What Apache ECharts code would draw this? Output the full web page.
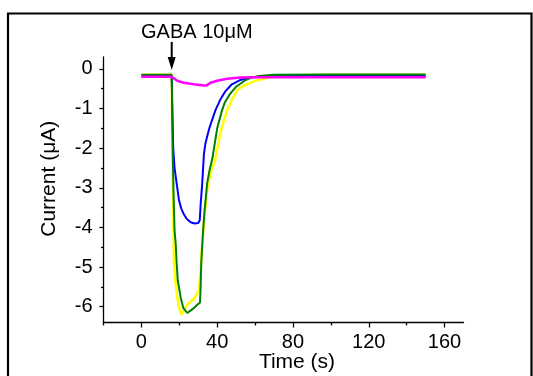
<!DOCTYPE html>
<html>
<head>
<meta charset="utf-8">
<script src="https://cdn.jsdelivr.net/npm/echarts@6/dist/echarts.min.js"></script>
<style>html,body{margin:0;padding:0;background:#fff;}#c{width:533px;height:376px;}</style>
</head>
<body>
<div id="c"></div>
<script>
// ---- data ----
var xTickLabels = [0, 40, 80, 120, 160];
var xMinorTicks = [-20, 20, 60, 100, 140];
var yTickLabels = [-6, -5, -4, -3, -2, -1, 0];
var yMinorTicks = [-5.5, -4.5, -3.5, -2.5, -1.5, -0.5];
var annotationText = 'GABA 10μM';
var gabaOnsetTime = 16;

var blueT = [0, 16, 16.4, 16.8, 17.5, 18.6, 19.8, 21, 22.4, 24, 26, 28, 30, 30.8, 31.3, 32.1, 33, 33.8, 35, 36.1, 37.6, 39.1, 41.4, 42.6, 44.4, 47.5, 52.3, 57.5, 65, 80, 100, 120, 150];
var blueV = [-0.17, -0.17, -1.2, -2.0, -2.5, -2.89, -3.3, -3.52, -3.67, -3.79, -3.87, -3.9, -3.89, -3.82, -3.4, -2.89, -2.15, -1.88, -1.65, -1.46, -1.25, -1.04, -0.8, -0.7, -0.56, -0.4, -0.28, -0.21, -0.19, -0.18, -0.18, -0.18, -0.18];

var greenT = [0, 16, 16.5, 17, 17.5, 18.1, 18.6, 19.2, 20.7, 22.1, 24.2, 26.8, 29.5, 30.9, 31.2, 31.6, 32.4, 33.3, 34.7, 36, 37.5, 38.5, 40, 42.6, 44, 46.5, 50, 55, 58, 62, 70, 100, 150];
var greenV = [-0.15, -0.15, -2, -3.2, -4.08, -4.4, -4.9, -5.34, -5.76, -6.03, -6.16, -6.07, -5.95, -5.9, -5.6, -4.9, -4.2, -3.6, -2.89, -2.55, -2.25, -1.95, -1.5, -1.04, -0.85, -0.65, -0.45, -0.28, -0.22, -0.18, -0.15, -0.14, -0.14];

var yellowT = [0, 16, 16.6, 17.2, 17.9, 18.9, 20.3, 21.2, 22, 24.2, 27.7, 30.3, 30.7, 31.3, 32.3, 33.5, 35, 37, 39, 40.3, 42.3, 45.3, 47.8, 50.5, 53, 56.6, 60, 63.7, 68, 75, 100, 150];
var yellowV = [-0.15, -0.15, -3, -4.9, -5.34, -5.76, -6.1, -6.2, -6.15, -5.95, -5.8, -5.6, -5.45, -5.0, -4.3, -3.6, -2.95, -2.55, -2.3, -1.95, -1.5, -1.04, -0.78, -0.54, -0.45, -0.37, -0.3, -0.26, -0.2, -0.17, -0.15, -0.15];

var magentaT = [0, 16, 16.6, 18.9, 22.4, 27.7, 33, 34.7, 36.5, 40, 45.3, 52.3, 60, 100, 150];
var magentaV = [-0.2, -0.2, -0.22, -0.3, -0.35, -0.39, -0.42, -0.41, -0.35, -0.3, -0.25, -0.22, -0.21, -0.21, -0.21];

function zip(t, v) { return t.map(function (x, i) { return [x, v[i]]; }); }

var FONT = 'Liberation Sans, Arial, sans-serif';
var chart = echarts.init(document.getElementById('c'), null, { renderer: 'canvas' });

function line(name, color, t, v, w) {
  return {
    name: name, type: 'line', data: zip(t, v), showSymbol: false, symbol: 'none',
    xAxisIndex: 0, yAxisIndex: 0,
    lineStyle: { color: color, width: w }, animation: false, z: 2
  };
}

var grid = { left: 103.5, right: 69.5, top: 57, bottom: 53.5, containLabel: false, outerBoundsMode: 'none' };

chart.setOption({
  animation: false,
  backgroundColor: '#fff',
  grid: grid,
  xAxis: [{
    type: 'value', min: -20, max: 170, position: 'bottom',
    name: 'Time (s)', nameLocation: 'middle', nameGap: 29, nameMoveOverlap: false,
    nameTextStyle: { fontFamily: FONT, fontSize: 21, color: '#000', padding: [0, 0, 0, 27] },
    axisLine: { show: true, onZero: false, lineStyle: { color: '#000', width: 1.3 } },
    axisTick: { show: true, inside: false, length: 5, customValues: xTickLabels, lineStyle: { color: '#000', width: 1.3 } },
    axisLabel: { show: true, customValues: xTickLabels, margin: 10, fontFamily: FONT, fontSize: 20, color: '#000' },
    splitLine: { show: false }
  }, {
    type: 'value', min: -20, max: 170, position: 'bottom',
    axisLine: { show: false, onZero: false },
    axisTick: { show: true, inside: false, length: 3, customValues: xMinorTicks, lineStyle: { color: '#000', width: 1.3 } },
    axisLabel: { show: false },
    splitLine: { show: false }
  }],
  yAxis: [{
    type: 'value', min: -6.4, max: 0.3, position: 'left',
    name: 'Current (μA)', nameLocation: 'middle', nameGap: 44, nameRotate: 90,
    nameTextStyle: { fontFamily: FONT, fontSize: 21, color: '#000', padding: [0, 0, 0, 22] },
    axisLine: { show: true, onZero: false, lineStyle: { color: '#000', width: 1.3 } },
    axisTick: { show: true, inside: false, length: 4, customValues: yTickLabels, lineStyle: { color: '#000', width: 1.3 } },
    axisLabel: { show: true, customValues: yTickLabels, margin: 11, fontFamily: FONT, fontSize: 20, color: '#000' },
    splitLine: { show: false }
  }, {
    type: 'value', min: -6.4, max: 0.3, position: 'left',
    axisLine: { show: false, onZero: false },
    axisTick: { show: true, inside: false, length: 2.5, customValues: yMinorTicks, lineStyle: { color: '#000', width: 1.3 } },
    axisLabel: { show: false },
    splitLine: { show: false }
  }],
  series: [
    line('yellow', '#ffff00', yellowT, yellowV, 2.5),
    line('blue', '#0000ff', blueT, blueV, 2),
    line('green', '#008000', greenT, greenV, 2),
    line('magenta', '#ff00ff', magentaT, magentaV, 2.5)
  ]
});

// annotation: arrow + label placed through the axis scales
var tip = chart.convertToPixel({ xAxisIndex: 0, yAxisIndex: 0 }, [gabaOnsetTime, 0]);
var ax = tip[0], ay = tip[1] + 1;
chart.setOption({
  graphic: [
    { type: 'rect', shape: { x: 8, y: 13.5, width: 523.5, height: 420 }, style: { fill: 'none', stroke: '#000', lineWidth: 2.2 }, silent: true, z: 100 },
    { type: 'line', shape: { x1: ax, y1: ay - 28, x2: ax, y2: ay - 11 }, style: { stroke: '#000', lineWidth: 2 }, z: 100 },
    { type: 'polygon', shape: { points: [[ax - 4, ay - 13], [ax + 4, ay - 13], [ax, ay]] }, style: { fill: '#000' }, z: 100 },
    { type: 'text', x: 141, y: 32, style: { text: annotationText, fontFamily: FONT, fontSize: 20, fill: '#000', align: 'left', verticalAlign: 'middle' }, z: 100 }
  ]
});
</script>
</body>
</html>
